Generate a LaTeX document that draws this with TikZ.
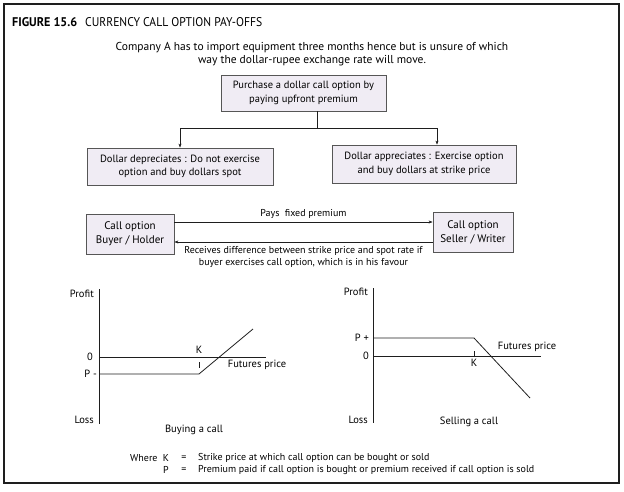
\documentclass[tikz,border=0pt]{standalone}
\usepackage{fontspec}
\setmainfont{PT Sans}
\usetikzlibrary{arrows.meta,calc}
\definecolor{boxfill}{RGB}{240,236,244}
\definecolor{ink}{RGB}{30,30,30}
\tikzset{
  flowbox/.style={draw=ink!75,line width=0.8pt,fill=boxfill,align=center,inner sep=2pt,
    font=\fontsize{10.5}{13.5}\selectfont},
  partybox/.style={flowbox,font=\fontsize{11}{14}\selectfont},
  conn/.style={draw=ink,line width=0.6pt},
  arr/.style={conn,-{Stealth[length=4pt,width=3pt]}},
  lbl/.style={font=\fontsize{10}{12}\selectfont,align=center,inner sep=0pt},
  glbl/.style={font=\fontsize{10.5}{12}\selectfont,align=center,inner sep=0pt},
  gline/.style={draw=ink,line width=0.8pt},
}
\begin{document}
\begin{tikzpicture}[x=1pt,y=-1pt]
\useasboundingbox (0,0) rectangle (624,491);
% frame
\draw[ink,line width=1.2pt] (4,4) rectangle (619,483);
% title
\node[anchor=base west,inner sep=0pt] (title) at (12,26)
  {\resizebox{65pt}{9pt}{\textbf{FIGURE 15.6}}\hspace{8pt}\resizebox{177pt}{9pt}{CURRENCY CALL OPTION PAY-OFFS}};
% intro
\node[align=center,inner sep=0pt,font=\fontsize{11.5}{13.5}\selectfont] (intro) at (312,54)
  {Company A has to import equipment three months hence but is unsure of which\\way the dollar-rupee exchange rate will move.};
% boxes
\node[flowbox,minimum width=165,minimum height=36] (top) at (303.5,93) {Purchase a dollar call option by\\paying upfront premium};
\node[flowbox,minimum width=186,minimum height=37] (left) at (180,166.5) {Dollar depreciates : Do not exercise\\option and buy dollars spot};
\node[flowbox,minimum width=184,minimum height=38] (right) at (424,164) {Dollar appreciates : Exercise option\\and buy dollars at strike price};
\coordinate (jn) at (317,128);
\draw[conn] (top.south -| jn) -- (jn);
\draw[arr] (jn) -| (left.north);
\draw[arr] (jn) -| ([xshift=13pt]right.north);
% buyer / seller
\node[partybox,minimum width=88,minimum height=40] (buyer) at (130,234) {Call option\\Buyer / Holder};
\node[partybox,minimum width=80,minimum height=40] (seller) at (473,232) {Call option\\Seller / Writer};
\draw[arr] ([yshift=12pt]buyer.east) -- ([yshift=12pt]buyer.east -| seller.west)
  node[lbl,midway,above=3pt] (pays) {Pays\ \ fixed premium};
\draw[arr] ([yshift=-10pt]seller.west) -- ([yshift=-10pt]seller.west -| buyer.east)
  node[lbl,midway,below=4pt] (recv) {Receives difference between strike price and spot rate if\\buyer exercises call option, which is in his favour};
% left graph
\draw[gline] (99,289) -- (99,424);
\draw[gline] (99,357) -- (266,357);
\draw[gline] (99,374) -- (199,374) -- (253,329);
\draw[ink,line width=0.5pt] (199,362) -- (199,368);
\node[glbl,anchor=east] at (94,294) {Profit};
\node[glbl,anchor=east] at (94,420) {Loss};
\node[glbl,anchor=east] at (93,357) {0};
\node[glbl,anchor=east] at (97,374) {P -};
\node[glbl] at (199,350) {K};
\node[glbl] at (257,365) {Futures price};
\node[glbl] at (194,430) {Buying a call};
% right graph
\draw[gline] (373,288) -- (373,423);
\draw[gline] (373,356) -- (541,356);
\draw[gline] (373,338) -- (474,338) -- (530,398);
\draw[ink,line width=0.5pt] (474,351) -- (474,357);
\node[glbl,anchor=east] at (368,292) {Profit};
\node[glbl,anchor=east] at (368,420) {Loss};
\node[glbl,anchor=east] at (369,338) {P +};
\node[glbl,anchor=east] at (369,356) {0};
\node[glbl] at (474,363) {K};
\node[glbl] at (527,347) {Futures price};
\node[glbl] at (469,422) {Selling a call};
% footer
\node[lbl,anchor=west] at (130,458) {Where};
\node[lbl] at (166,458) {K};
\node[lbl] at (184,458) {=};
\node[lbl,anchor=west] at (198,458) {Strike price at which call option can be bought or sold};
\node[lbl] at (166,470) {P};
\node[lbl] at (184,470) {=};
\node[lbl,anchor=west] at (198,470) {Premium paid if call option is bought or premium received if call option is sold};
\end{tikzpicture}
\end{document}
